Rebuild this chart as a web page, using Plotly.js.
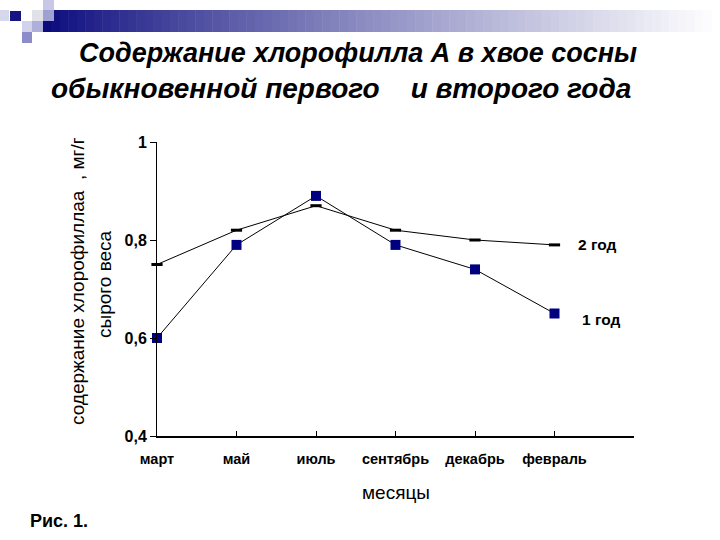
<!DOCTYPE html>
<html>
<head>
<meta charset="utf-8">
<script src="https://cdn.plot.ly/plotly-3.0.1.min.js"></script>
<style>html,body{margin:0;padding:0;background:#fff;}#chart{width:720px;height:540px;}</style>
</head>
<body>
<div id="chart"></div>
<script>
// ---- data ----
const months = ['март', 'май', 'июль', 'сентябрь', 'декабрь', 'февраль'];
const year1 = [0.60, 0.79, 0.89, 0.79, 0.74, 0.65];
const year2 = [0.75, 0.82, 0.87, 0.82, 0.80, 0.79];
const seriesNames = ['1 год', '2 год'];
const yTickVals = [0.4, 0.6, 0.8, 1.0];
const yTickText = ['0,4', '0,6', '0,8', '1'];

// ---- geometry helpers (pixel -> paper) ----
const W = 720, H = 540;
const M = {l: 157, r: 86, t: 142, b: 104};
const PW = W - M.l - M.r, PH = H - M.t - M.b;
const px = x => (x - M.l) / PW;
const py = y => (H - M.b - y) / PH;

const xIdx = months.map((m, i) => i);

const shapes = [];
// gradient banner (decoration)
const N = 80, bx0 = 43, bx1 = 720, by0 = 10, by1 = 32;
const c0 = [10, 10, 125], c1 = [255, 255, 255];
for (let i = 0; i < N; i++) {
  const t = i / (N - 1);
  const c = c0.map((v, k) => Math.round(v + (c1[k] - v) * Math.pow(t, 0.85)));
  shapes.push({type: 'rect', xref: 'paper', yref: 'paper', layer: 'below',
    x0: px(bx0 + (bx1 - bx0) * i / N), x1: px(bx0 + (bx1 - bx0) * (i + 1) / N + 0.5),
    y0: py(by1), y1: py(by0), fillcolor: `rgb(${c.join(',')})`, line: {width: 0}});
}
// small squares (decoration)
const sq = [
  [0, 10, 9, 21, 'rgb(215,215,235)'],
  [10, 11, 21, 21, 'rgb(20,20,130)'],
  [32, 10, 43, 21, 'rgb(225,225,232)'],
  [43, 0, 54, 10, 'rgb(200,200,230)'],
  [43, 10, 54, 21, 'rgb(160,160,210)'],
  [22, 21, 32, 32, 'rgb(210,210,235)'],
  [32, 21, 43, 32, 'rgb(175,175,220)'],
  [22, 32, 32, 43, 'rgb(140,140,200)']
];
sq.forEach(s => shapes.push({type: 'rect', xref: 'paper', yref: 'paper',
  x0: px(s[0]), x1: px(s[2]), y0: py(s[3]), y1: py(s[1]),
  fillcolor: s[4], line: {width: 0}}));

const F = 'Liberation Sans, Arial, sans-serif';
const annotations = [
  {text: '<b><i>Содержание хлорофилла А в хвое сосны</i></b>', x: px(77), y: py(53),
   xanchor: 'left', yanchor: 'middle', font: {family: F, size: 27, color: '#000'}},
  {text: '<b><i>обыкновенной первого\u00a0\u00a0\u00a0\u00a0и второго года</i></b>', x: px(49), y: py(89),
   xanchor: 'left', yanchor: 'middle', font: {family: F, size: 28, color: '#000'}}
].map(a => Object.assign(a, {xref: 'paper', yref: 'paper', showarrow: false}));

annotations.push(
  {text: 'содержание хлорофиллаа\u00a0\u00a0, мг/г', x: px(77), y: py(281), textangle: -90},
  {text: 'сырого веса', x: px(104), y: py(284), textangle: -90},
  {text: 'месяцы', x: px(396), y: py(492)}
);
for (let i = annotations.length - 3; i < annotations.length; i++) {
  Object.assign(annotations[i], {xref: 'paper', yref: 'paper', showarrow: false,
    xanchor: 'center', yanchor: 'middle', font: {family: F, size: 19, color: '#000'}});
}
// series labels next to last points
annotations.push(
  {text: '<b>' + seriesNames[1] + '</b>', x: xIdx[5], y: year2[5], xshift: 42, yshift: 0},
  {text: '<b>' + seriesNames[0] + '</b>', x: xIdx[5], y: year1[5], xshift: 46, yshift: -6},
  {text: '<b>Рис. 1.</b>', xref: 'paper', yref: 'paper', x: px(59), y: py(521)}
);
for (let i = annotations.length - 3; i < annotations.length; i++) {
  Object.assign(annotations[i], {showarrow: false, xanchor: 'center', yanchor: 'middle',
    font: {family: F, size: i === annotations.length - 1 ? 18 : 15.5, color: '#000'}});
}

const traces = [
  {x: xIdx, y: year2, name: seriesNames[1], type: 'scatter', mode: 'lines+markers',
   cliponaxis: false,
   line: {color: '#000', width: 1},
   marker: {symbol: 'line-ew', size: 8, line: {color: '#000', width: 3}}},
  {x: xIdx, y: year1, name: seriesNames[0], type: 'scatter', mode: 'lines+markers',
   cliponaxis: false,
   line: {color: '#000', width: 1},
   marker: {symbol: 'square', size: 10, color: '#000080', line: {width: 0}}}
];

const layout = {
  width: W, height: H,
  margin: M,
  paper_bgcolor: '#fff', plot_bgcolor: '#fff',
  showlegend: false,
  font: {family: F, color: '#000'},
  xaxis: {
    range: [0, 6], tickvals: [0, 1, 2, 3, 4, 5, 6], ticktext: months.concat(['']),
    showgrid: false, zeroline: false, showline: true, linecolor: '#000', linewidth: 2,
    ticks: 'inside', ticklen: 5, tickwidth: 1, tickcolor: '#000',
    tickfont: {family: F, size: 14.5, color: '#000', weight: 'bold'}, ticklabelstandoff: 9,
    fixedrange: true
  },
  yaxis: {
    range: [0.4, 1.0], tickvals: yTickVals, ticktext: yTickText,
    showgrid: false, zeroline: false, showline: true, linecolor: '#000', linewidth: 1,
    ticks: 'outside', ticklen: 6, tickwidth: 1, tickcolor: '#000',
    tickfont: {family: F, size: 16, color: '#000', weight: 'bold'},
    fixedrange: true
  },
  shapes: shapes,
  annotations: annotations
};

Plotly.newPlot('chart', traces, layout, {displayModeBar: false, staticPlot: true});
</script>
</body>
</html>
